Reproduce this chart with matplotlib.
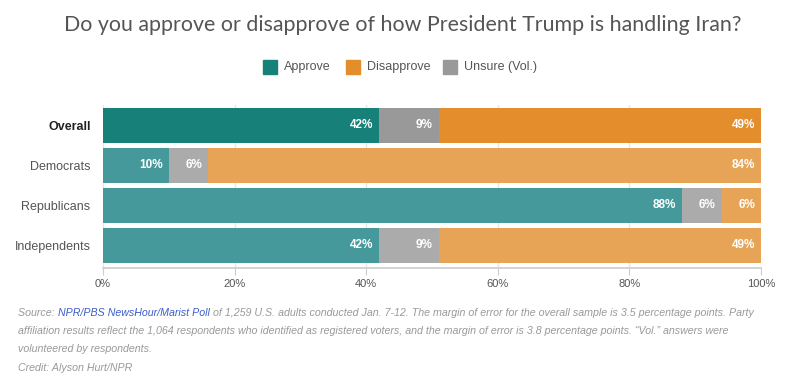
import matplotlib.pyplot as plt
from matplotlib.patches import Rectangle
import numpy as np

# data
groups = ['Overall', 'Democrats', 'Republicans', 'Independents']
approve = [42, 10, 88, 42]
unsure = [9, 6, 6, 9]
disapprove = [49, 84, 6, 49]
series_names = ['Approve', 'Disapprove', 'Unsure (Vol.)']
ticks = [0, 20, 40, 60, 80, 100]

# colours: darker for overall, lighter for the rest
dark = {'approve': '#178079', 'unsure': '#999999', 'disapprove': '#e38d2c'}
light = {'approve': '#45999a', 'unsure': '#ababab', 'disapprove': '#e8a456'}

W, H = 806, 388
fig = plt.figure(figsize=(W / 100, H / 100), dpi=100)
plt.rcParams['font.family'] = ['Liberation Sans', 'DejaVu Sans']

ax_top = 105.5
ax_bot = 268
ax = fig.add_axes([103 / W, 1 - ax_bot / H, (761 - 103) / W, (ax_bot - ax_top) / H])

y = np.arange(len(groups))
for i, g in enumerate(groups):
    c = dark if i == 0 else light
    left = 0
    for key, val in (('approve', approve[i]), ('unsure', unsure[i]), ('disapprove', disapprove[i])):
        ax.barh(i, val, left=left, height=0.875, color=c[key], zorder=3)
        ax.text(left + val - 0.9, i, '%d%%' % val, ha='right', va='center',
                color='white', fontsize=8.5, fontweight='bold', zorder=4)
        left += val

ax.set_xlim(0, 100)
ax.set_ylim(3.5625, -0.5)
ax.set_xticks(ticks)
ax.set_xticklabels(['%d%%' % t for t in ticks], fontsize=8, color='#555555')
ax.set_yticks(y)
ax.set_yticklabels(groups, fontsize=9, color='#555555')
ax.get_yticklabels()[0].set_fontweight('bold')
ax.get_yticklabels()[0].set_color('#222222')
ax.tick_params(axis='y', length=0, pad=9)
ax.tick_params(axis='x', length=5, color='#cccccc', pad=3)
ax.grid(axis='x', color='#e6e6e6', linewidth=1, zorder=0)
for s in ['top', 'right', 'left']:
    ax.spines[s].set_visible(False)
ax.spines['bottom'].set_color('#cccccc')
ax.spines['bottom'].set_linewidth(1.2)

# title
fig.text(0.5, 1 - 25 / H, 'Do you approve or disapprove of how President Trump is handling Iran?',
         ha='center', va='center', fontsize=15.4, color='#555555', family=['Lato', 'DejaVu Sans'])

# legend
leg_y = 1 - 67 / H
leg_items = [(263, dark['approve'], series_names[0]),
             (346, dark['disapprove'], series_names[1]),
             (443, dark['unsure'], series_names[2])]
for x0, col, name in leg_items:
    fig.patches.append(Rectangle((x0 / W, leg_y - 7 / H), 14 / W, 14 / H,
                                 transform=fig.transFigure, color=col))
    fig.text((x0 + 21) / W, leg_y, name, ha='left', va='center', fontsize=9, color='#555555')

# footnote
fc = '#999999'
fs = 7.65
t1 = fig.text(18 / W, 1 - 313 / H, 'Source: ', ha='left', va='center', fontsize=fs,
              color=fc, style='italic')
t2 = ax.annotate('NPR/PBS NewsHour/Marist Poll', xy=(1, 0), xycoords=t1, va='bottom',
                 fontsize=fs, color='#3b5dc9', style='italic')
ax.annotate(' of 1,259 U.S. adults conducted Jan. 7-12. The margin of error for the overall sample is 3.5 percentage points. Party',
            xy=(1, 0), xycoords=t2, va='bottom', fontsize=fs, color=fc, style='italic')
fig.text(18 / W, 1 - 331 / H,
         'affiliation results reflect the 1,064 respondents who identified as registered voters, and the margin of error is 3.8 percentage points. \u201cVol.\u201d answers were',
         ha='left', va='center', fontsize=fs, color=fc, style='italic')
fig.text(18 / W, 1 - 349 / H, 'volunteered by respondents.', ha='left', va='center',
         fontsize=fs, color=fc, style='italic')
fig.text(18 / W, 1 - 368 / H, 'Credit: Alyson Hurt/NPR', ha='left', va='center',
         fontsize=fs, color=fc, style='italic')

fig.savefig('out.png', dpi=100)
